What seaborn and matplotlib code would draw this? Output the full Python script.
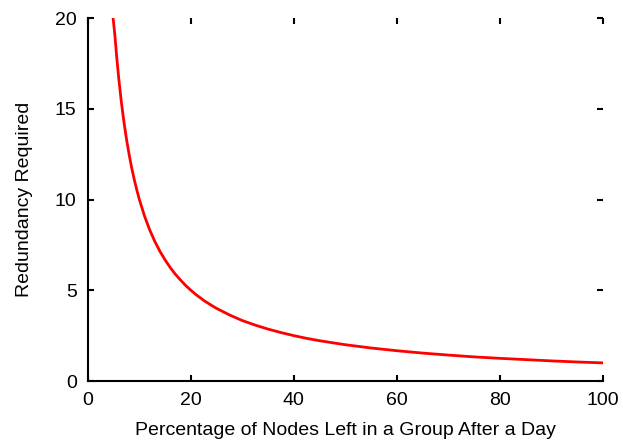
import matplotlib
matplotlib.use("Agg")
import matplotlib.pyplot as plt
import seaborn as sns
import pandas as pd

pct_left = [4.9, 5.25, 5.6, 6.0, 6.5, 7.0, 7.5, 8.0, 8.5, 9.0, 9.5, 10.0, 11.0, 12.0,
            13.0, 14.0, 15.0, 16.0, 17.0, 18.0, 19.0, 20.0, 21.0, 22.5, 24.0, 25.0,
            27.5, 30.0, 32.5, 35.0, 37.5, 40.0, 42.5, 45.0, 47.5, 50.0, 55.0, 60.0,
            65.0, 70.0, 75.0, 80.0, 85.0, 90.0, 95.0, 100.0]
redundancy = [20.0, 19.05, 17.86, 16.67, 15.38, 14.29, 13.33, 12.5, 11.76, 11.11, 10.53,
              10.0, 9.09, 8.33, 7.69, 7.14, 6.67, 6.25, 5.88, 5.56, 5.26, 5.0, 4.76,
              4.44, 4.17, 4.0, 3.64, 3.33, 3.08, 2.86, 2.67, 2.5, 2.35, 2.22, 2.11,
              2.0, 1.82, 1.67, 1.54, 1.43, 1.33, 1.25, 1.18, 1.11, 1.05, 1.0]
x_ticks = [0, 20, 40, 60, 80, 100]
y_ticks = [0, 5, 10, 15, 20]

sns.set_style("white")
plt.rcParams['font.family'] = ['Liberation Sans', 'DejaVu Sans']

df = pd.DataFrame({"x": pct_left, "y": redundancy})
fig = plt.figure(figsize=(6.23, 4.40), dpi=100)
ax = fig.add_axes([0.141, 0.134, 0.827, 0.825])
sns.lineplot(data=df, x="x", y="y", ax=ax, color="#ff0000", linewidth=2, sort=False)

ax.set_xlim(0, 100)
ax.set_ylim(0, 20)
ax.set_xticks(x_ticks)
ax.set_yticks(y_ticks)
ax.set_xticklabels([str(t) for t in x_ticks])
ax.set_yticklabels([str(t) for t in y_ticks])
ax.set_xlabel("Percentage of Nodes Left in a Group After a Day", fontsize=14,
              labelpad=9, color="black")
ax.set_ylabel("Redundancy Required", fontsize=14, labelpad=16, color="black")
for s in ["top", "right"]:
    ax.spines[s].set_visible(False)
for s in ["left", "bottom"]:
    ax.spines[s].set_color("black")
    ax.spines[s].set_linewidth(1.5)
ax.tick_params(direction="in", length=4, width=1.5, top=True, right=True,
               bottom=True, left=True, labelsize=14, color="black",
               labelcolor="black", pad=8)
ax.grid(False)
fig.savefig("out.png", dpi=100)
